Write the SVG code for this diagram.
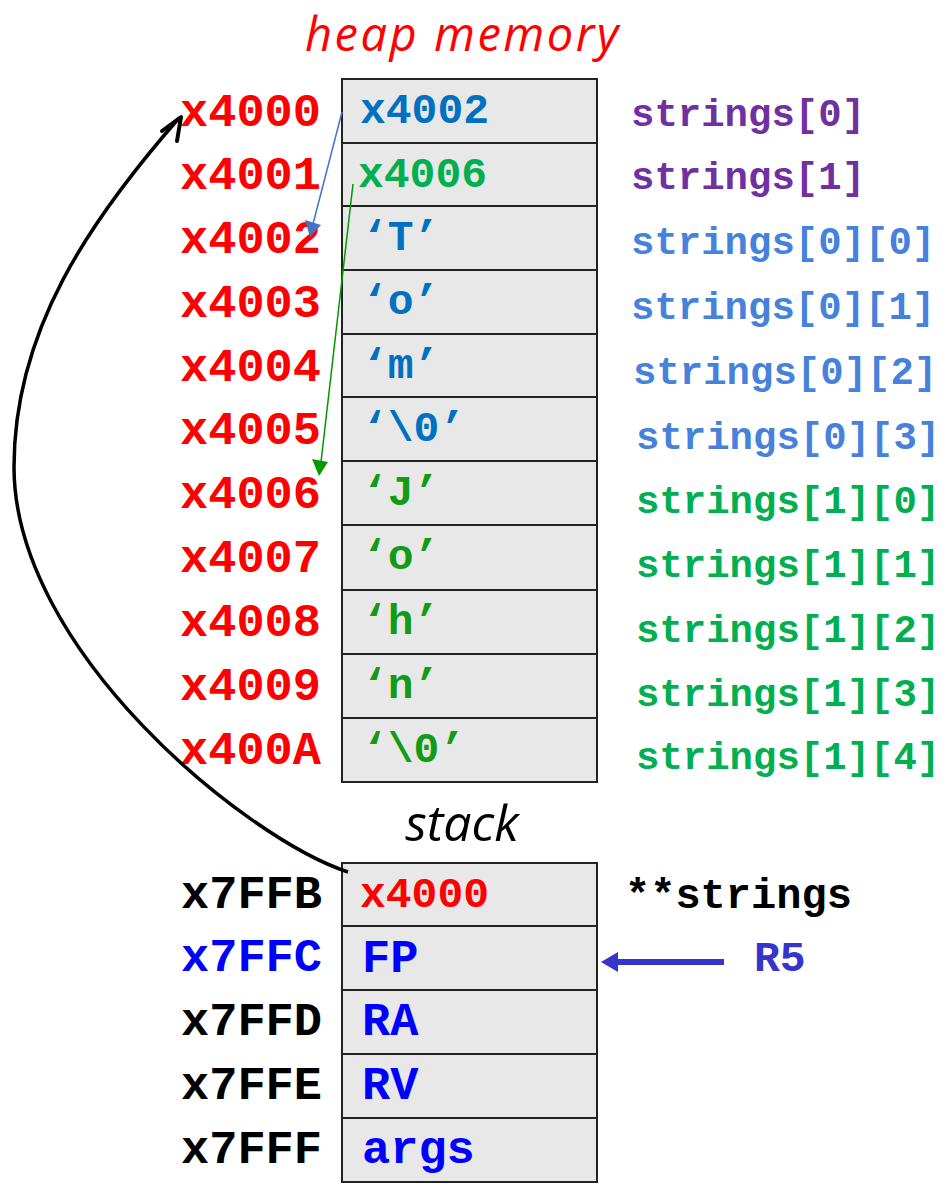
<svg xmlns="http://www.w3.org/2000/svg" width="948" height="1194" viewBox="0 0 948 1194">
<style>
.mono{font-family:"Liberation Mono","Courier New",monospace;font-weight:bold}
.addr{font-size:47px}
.cell{font-size:43px}
.big{font-size:47px}
.lbl{font-size:39px}
.cellbox{fill:#E8E8E8;stroke:#222;stroke-width:2}
.title{font-family:"Open Sans","Noto Sans",sans-serif;font-style:italic}
.red{fill:#FF0000}.purple{fill:#7030A0}.lblue{fill:#4682DC}.green{fill:#00B050}
.dblue{fill:#0070C0}.dgreen{fill:#149B14}.blue{fill:#0000FF}.black{fill:#000}
</style>
<rect width="948" height="1194" fill="#fff"/>
<text class="title red" x="463" y="51" font-size="47" letter-spacing="2.5" text-anchor="middle">heap memory</text>
<text class="title black" x="462" y="841" font-size="50" text-anchor="middle">stack</text>

<g id="heap">
<g id="h4000"><rect class="cellbox" x="342" y="79" width="255" height="64"/><text class="mono addr red" x="180" y="126">x4000</text><text class="mono cell dblue" x="360" y="123">x4002</text><text class="mono lbl purple" x="631" y="126">strings[0]</text></g>
<g id="h4001"><rect class="cellbox" x="342" y="143" width="255" height="63"/><text class="mono addr red" x="180" y="189">x4001</text><text class="mono cell green" x="358" y="187">x4006</text><text class="mono lbl purple" x="631" y="189">strings[1]</text></g>
<g id="h4002"><rect class="cellbox" x="342" y="206" width="255" height="64"/><text class="mono addr red" x="180" y="253">x4002</text><text class="mono cell dblue" x="362" y="250">‘T’</text><text class="mono lbl lblue" x="631" y="254">strings[0][0]</text></g>
<g id="h4003"><rect class="cellbox" x="342" y="270" width="255" height="64"/><text class="mono addr red" x="180" y="317">x4003</text><text class="mono cell dblue" x="362" y="314">‘o’</text><text class="mono lbl lblue" x="631" y="319">strings[0][1]</text></g>
<g id="h4004"><rect class="cellbox" x="342" y="334" width="255" height="63"/><text class="mono addr red" x="180" y="381">x4004</text><text class="mono cell dblue" x="362" y="378">‘m’</text><text class="mono lbl lblue" x="633" y="384">strings[0][2]</text></g>
<g id="h4005"><rect class="cellbox" x="342" y="397" width="255" height="64"/><text class="mono addr red" x="180" y="444">x4005</text><text class="mono cell dblue" x="362" y="441">‘\0’</text><text class="mono lbl lblue" x="636" y="449">strings[0][3]</text></g>
<g id="h4006"><rect class="cellbox" x="342" y="461" width="255" height="64"/><text class="mono addr red" x="180" y="508">x4006</text><text class="mono cell dgreen" x="362" y="505">‘J’</text><text class="mono lbl green" x="636" y="513">strings[1][0]</text></g>
<g id="h4007"><rect class="cellbox" x="342" y="525" width="255" height="65"/><text class="mono addr red" x="180" y="572">x4007</text><text class="mono cell dgreen" x="362" y="569">‘o’</text><text class="mono lbl green" x="636" y="577">strings[1][1]</text></g>
<g id="h4008"><rect class="cellbox" x="342" y="590" width="255" height="64"/><text class="mono addr red" x="180" y="636">x4008</text><text class="mono cell dgreen" x="362" y="634">‘h’</text><text class="mono lbl green" x="636" y="642">strings[1][2]</text></g>
<g id="h4009"><rect class="cellbox" x="342" y="654" width="255" height="64"/><text class="mono addr red" x="180" y="700">x4009</text><text class="mono cell dgreen" x="362" y="698">‘n’</text><text class="mono lbl green" x="636" y="706">strings[1][3]</text></g>
<g id="h400A"><rect class="cellbox" x="342" y="718" width="255" height="64"/><text class="mono addr red" x="180" y="764">x400A</text><text class="mono cell dgreen" x="362" y="762">‘\0’</text><text class="mono lbl green" x="636" y="769">strings[1][4]</text></g>
</g>

<g id="stack">
<g id="s7FFB"><rect class="cellbox" x="342" y="863" width="255" height="63"/><text class="mono addr black" x="181" y="908">x7FFB</text><text class="mono cell red" x="360" y="907">x4000</text><text class="mono black" font-size="42" x="625" y="908">**strings</text></g>
<g id="s7FFC"><rect class="cellbox" x="342" y="926" width="255" height="64"/><text class="mono addr blue" x="181" y="971">x7FFC</text><text class="mono big blue" x="362" y="972">FP</text></g>
<g id="s7FFD"><rect class="cellbox" x="342" y="990" width="255" height="64"/><text class="mono addr black" x="181" y="1035">x7FFD</text><text class="mono big blue" x="362" y="1035">RA</text></g>
<g id="s7FFE"><rect class="cellbox" x="342" y="1054" width="255" height="64"/><text class="mono addr black" x="181" y="1099">x7FFE</text><text class="mono big blue" x="362" y="1099">RV</text></g>
<g id="s7FFF"><rect class="cellbox" x="342" y="1118" width="255" height="64"/><text class="mono addr black" x="181" y="1163">x7FFF</text><text class="mono big blue" x="362" y="1163">args</text></g>
<g id="r5"><text class="mono cell" fill="#3535CC" x="754" y="971">R5</text></g>
</g>

<g id="connectors">
<path d="M348,872 C245,838 14,650 14,467 C14,330 90,220 179,118" fill="none" stroke="#000" stroke-width="3.5"/>
<polyline points="162,131 181,117 177,141" fill="none" stroke="#000" stroke-width="4" stroke-linecap="round" stroke-linejoin="round"/>
<line x1="342" y1="112" x2="313" y2="224" stroke="#4472C4" stroke-width="1.5"/>
<polygon points="310,237 305,220 321,225" fill="#4472C4"/>
<line x1="353" y1="184" x2="321" y2="462" stroke="#009900" stroke-width="1.5"/>
<polygon points="319,476 312,459 328,462" fill="#009900"/>
<line x1="724" y1="962" x2="614" y2="962" stroke="#3535CC" stroke-width="6"/>
<polygon points="601,962 618,952 618,972" fill="#3535CC"/>
</g>
</svg>
